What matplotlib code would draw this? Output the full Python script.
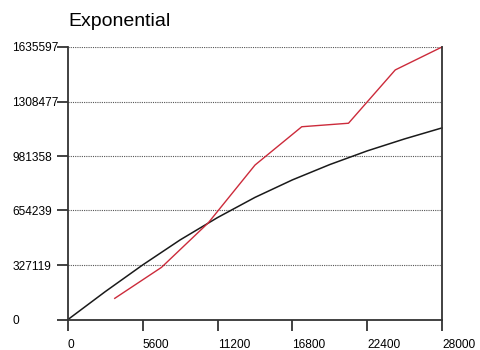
import numpy as np
import matplotlib
matplotlib.use("Agg")
import matplotlib.pyplot as plt

# fitted curve (black) and measured series (red)
fit_x = [0, 2800, 5600, 8400, 11200, 14000, 16800, 19600, 22400, 25200, 28000]
fit_y = [0, 168000, 328000, 478000, 612000, 733000, 838000, 930000, 1012000, 1084000, 1150000]

obs_x = [3500, 7000, 10500, 14000, 17500, 21000, 24500, 28000]
obs_y = [127000, 313000, 580000, 927000, 1157000, 1178000, 1498000, 1635597]

x_ticks = [0, 5600, 11200, 16800, 22400, 28000]
y_ticks = [0, 327119, 654239, 981358, 1308477, 1635597]

plt.rcParams['font.family'] = ['Liberation Sans', 'DejaVu Sans']

fig = plt.figure(figsize=(4.8, 3.5), dpi=100)
ax = fig.add_axes([68/480, 1 - 319.5/350, (442 - 68)/480, (319.5 - 47)/350])

ax.plot(fit_x, fit_y, color='#1a1a1a', lw=1.1, clip_on=False)
ax.plot(obs_x, obs_y, color='#cc2b3b', lw=1.0, clip_on=False)

ax.set_xlim(0, 28000)
ax.set_ylim(0, 1635597)

ax.set_xticks(x_ticks)
ax.set_xticklabels([str(v) for v in x_ticks])
ax.set_yticks(y_ticks)
ax.set_yticklabels([str(v) for v in y_ticks])

for lab in ax.get_xticklabels():
    lab.set_horizontalalignment('left')
for lab in ax.get_yticklabels():
    lab.set_horizontalalignment('left')

ax.tick_params(axis='both', direction='out', length=8, width=1.3,
               color='#333333', labelsize=8.6)
ax.tick_params(axis='x', pad=6)
ax.tick_params(axis='y', pad=32)

ax.grid(axis='y', linestyle=(0, (1, 1)), color='#555555', lw=0.8)
ax.set_axisbelow(True)

ax.spines['top'].set_visible(False)
for s in ['left', 'bottom', 'right']:
    ax.spines[s].set_color('#333333')
    ax.spines[s].set_linewidth(1.3)

fig.text(68/480, 1 - 26.5/350, 'Exponential', fontsize=14, ha='left', va='baseline')

fig.savefig('out.png', dpi=100)
